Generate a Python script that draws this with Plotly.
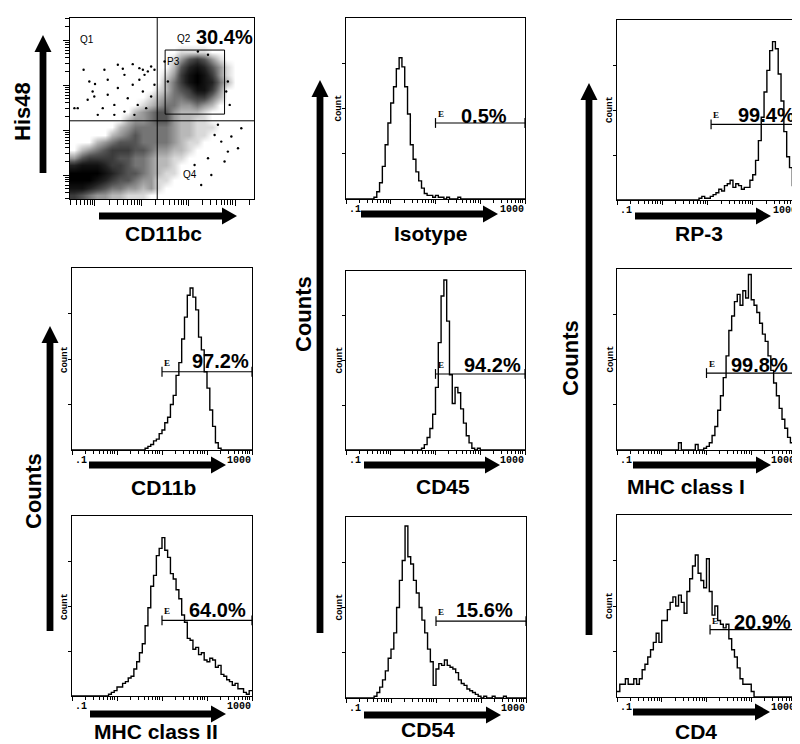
import math
import plotly.graph_objects as go

W, H = 800, 744

# ---------------------------------------------------------------- data
N_BINS = 64                 # log-spaced channels from 0.1 to 1000
LOG_MIN, LOG_MAX = -1, 3

CD11B_COUNTS = [0] * 26 + [1, 2, 3, 5, 6, 9, 11, 15, 18, 25, 30, 41, 48, 61, 73, 85, 89, 84,
                           77, 62, 55, 43, 34, 22, 13, 4, 1] + [0] * 11
MHC2_COUNTS = [0] * 13 + [1, 2, 3, 5, 5, 7, 8, 10, 11, 15, 19, 24, 29, 39, 49, 61, 67, 78, 82, 88,
                          81, 77, 68, 65, 59, 54, 45, 41, 32, 31, 26, 27, 23, 24, 20, 19, 21, 20,
                          16, 17, 12, 11, 9, 8, 6, 7, 4, 4, 2, 1, 3]
ISOTYPE_COUNTS = [0] * 10 + [1, 4, 9, 18, 30, 42, 53, 62, 72, 78, 73, 62, 47, 30, 22, 15, 10, 6,
                             3, 2, 2, 1, 2, 1, 1, 0, 1, 0, 0, 0, 1] + [0] * 23
CD45_COUNTS = [0] * 27 + [1, 3, 7, 12, 20, 35, 60, 86, 95, 72, 42, 26, 35, 32, 23, 15, 8, 4, 1,
                          0, 1] + [0] * 16
CD54_COUNTS = [0] * 10 + [1, 3, 6, 10, 15, 22, 27, 36, 50, 65, 76, 95, 78, 74, 65, 58, 50, 43, 36,
                          27, 20, 7, 16, 19, 18, 21, 18, 17, 16, 14, 10, 8, 7, 5, 4, 3, 2, 1, 0,
                          1, 0, 0, 1, 0, 0, 0, 1] + [0] * 7
RP3_COUNTS = [0] * 29 + [1, 2, 1, 1, 2, 3, 4, 6, 5, 8, 9, 11, 7, 9, 8, 6, 7, 7, 11, 14, 22, 33,
                         46, 60, 72, 83, 88, 84, 70, 55, 38, 24, 18, 8, 28]
MHC1_COUNTS = [0] * 22 + [4, 0, 0, 0, 0, 0, 3, 0, 0, 1, 2, 4, 8, 13, 22, 30, 40, 52, 66, 74, 82,
                          86, 80, 88, 84, 97, 83, 80, 76, 70, 64, 60, 52, 44, 37, 30, 23, 17, 12,
                          7, 4, 2]
CD4_COUNTS = [3, 7, 7, 10, 7, 7, 10, 7, 10, 15, 18, 22, 26, 30, 35, 30, 42, 42, 48, 52, 55, 50,
              56, 52, 46, 58, 65, 72, 78, 68, 64, 60, 76, 58, 45, 50, 42, 40, 38, 40, 32, 26,
              22, 16, 10, 7, 7, 7, 3] + [0] * 14 + [5]

HIST_MARKERS = ["CD11b", "MHC class II", "Isotype", "CD45", "CD54", "RP-3", "MHC class I", "CD4"]
HIST_COUNTS = [CD11B_COUNTS, MHC2_COUNTS, ISOTYPE_COUNTS, CD45_COUNTS, CD54_COUNTS,
               RP3_COUNTS, MHC1_COUNTS, CD4_COUNTS]
GATE_PERCENT = ["97.2%", "64.0%", "0.5%", "94.2%", "15.6%", "99.4%", "99.8%", "20.9%"]
GATE_START = [10, 10, 10, 10, 10, 12, 10, 12]
GATE_LEVEL = [43, 42, 42, 42.5, 42.5, 42, 42.5, 37]

# dot plot His48 vs CD11bc : density of events on a 24 x 24 grid (top row first)
SCATTER_DENSITY = [
    [0, 0, 0, 0, 0, 0, 0, 0, 0, 0, 0, 0, 0, 0, 0, 0, 0, 0, 0, 0, 0, 0, 0, 0],
    [0, 0, 0, 0, 0, 0, 0, 0, 0, 0, 0, 0, 0, 0, 0, 0, 0, 0, 0, 0, 0, 0, 0, 0],
    [0, 0, 0, 0, 0, 0, 0, 0, 0, 0, 0, 0, 0, 0, 0, 0, 0, 0, 0, 0, 0, 0, 0, 0],
    [0, 0, 0, 0, 0, 0, 0, 0, 0, 0, 0, 0, 0, 0, 0, 0, 0, 0, 0, 0, 0, 0, 0, 0],
    [0, 0, 0, 0, 0, 0, 0, 0, 0, 0, 0, 0, 0, 0, 1, 1, 1, 1, 0, 0, 0, 0, 0, 0],
    [0, 0, 0, 0, 0, 0, 0, 0, 0, 0, 0, 0, 0, 1, 3, 5, 6, 5, 3, 1, 0, 0, 0, 0],
    [0, 0, 0, 0, 0, 0, 0, 0, 0, 0, 0, 0, 0, 2, 5, 7, 8, 7, 5, 3, 1, 0, 0, 0],
    [0, 0, 0, 0, 0, 0, 0, 0, 0, 0, 0, 0, 1, 3, 6, 8, 9, 8, 6, 3, 1, 0, 0, 0],
    [0, 0, 0, 0, 0, 0, 0, 0, 0, 0, 0, 0, 2, 4, 6, 8, 9, 8, 7, 4, 2, 0, 0, 0],
    [0, 0, 0, 0, 0, 0, 0, 0, 0, 0, 0, 1, 2, 4, 5, 6, 8, 8, 6, 3, 0, 0, 0, 0],
    [0, 0, 0, 0, 0, 0, 0, 0, 0, 0, 1, 2, 3, 4, 4, 5, 6, 6, 4, 2, 0, 0, 0, 0],
    [0, 0, 0, 0, 0, 0, 0, 0, 0, 1, 2, 3, 4, 4, 3, 3, 4, 3, 2, 0, 0, 0, 0, 0],
    [0, 0, 0, 0, 0, 0, 0, 0, 2, 3, 4, 5, 5, 3, 2, 2, 2, 1, 0, 0, 0, 0, 0, 0],
    [0, 0, 0, 0, 0, 0, 0, 2, 3, 3, 4, 5, 5, 3, 2, 2, 1, 1, 0, 0, 0, 0, 0, 0],
    [0, 0, 0, 0, 0, 0, 2, 3, 4, 4, 4, 4, 4, 3, 2, 2, 1, 1, 1, 0, 0, 0, 0, 0],
    [0, 0, 0, 0, 0, 2, 3, 4, 5, 4, 4, 4, 4, 3, 2, 2, 1, 1, 0, 0, 0, 0, 0, 0],
    [0, 0, 0, 2, 3, 4, 5, 5, 5, 4, 4, 4, 4, 3, 2, 1, 1, 0, 0, 0, 0, 0, 0, 0],
    [0, 2, 3, 4, 5, 6, 6, 6, 5, 5, 4, 3, 3, 2, 2, 1, 0, 0, 0, 0, 0, 0, 0, 0],
    [3, 5, 6, 6, 6, 6, 5, 5, 4, 4, 3, 2, 2, 1, 1, 0, 0, 0, 0, 0, 0, 0, 0, 0],
    [7, 8, 8, 8, 7, 6, 6, 5, 4, 4, 3, 2, 2, 1, 0, 0, 0, 0, 0, 0, 0, 0, 0, 0],
    [9, 9, 9, 9, 8, 7, 6, 5, 5, 4, 3, 2, 1, 1, 0, 0, 0, 0, 0, 0, 0, 0, 0, 0],
    [9, 9, 9, 8, 7, 6, 5, 5, 4, 3, 3, 1, 1, 0, 0, 0, 0, 0, 0, 0, 0, 0, 0, 0],
    [8, 8, 7, 6, 5, 4, 4, 3, 3, 2, 3, 1, 0, 0, 0, 0, 0, 0, 0, 0, 0, 0, 0, 0],
    [6, 5, 4, 3, 3, 2, 2, 1, 1, 1, 0, 0, 0, 0, 0, 0, 0, 0, 0, 0, 0, 0, 0, 0],
]
# isolated events (percent of scale)
SPARSE_X = [7.4, 13.6, 18.7, 26.0, 28.7, 34.1, 37.7, 39.6, 42.3, 44.1, 45.9, 2.4, 4.2, 10.5,
            12.3, 17.8, 20.5, 24.1, 26.0, 29.6, 31.4, 34.1, 36.8, 39.6, 41.4, 44.1, 20.5, 9.6,
            15.1, 35.0, 40.5, 29.6, 13.2, 24.1, 37.7, 45.9,
            78.6, 82.2, 85.8, 75.0, 84.0, 91.3, 76.8, 71.3, 67.7, 93.1, 87.7, 80.4,
            69.5, 75.0, 85.8, 84.9, 86.8, 51.4, 53.2]
SPARSE_Y = [71.4, 63.5, 71.4, 74.2, 72.0, 74.5, 72.3, 71.4, 70.5, 73.2, 71.4, 50.2, 50.2, 64.9,
            59.4, 50.2, 57.6, 52.0, 61.3, 48.3, 55.7, 63.1, 52.0, 59.4, 50.2, 56.6, 65.9, 54.8,
            46.5, 46.5, 68.6, 68.6, 56.6, 46.5, 65.9, 63.1,
            35.4, 31.7, 26.2, 22.5, 20.7, 28.0, 13.3, 7.7, 18.8, 39.1, 34.5, 41.0,
            81.5, 79.7, 64.9, 59.4, 52.0, 76.0, 64.9]
Q2_PERCENT = "30.4%"
QUAD_X, QUAD_Y = 47.4, 43.2
P3_GATE_X = [51.7, 84.0]
P3_GATE_Y = [46.9, 82.3]

# ---------------------------------------------------------------- layout geometry (px)
BOX = {  # left, right, top, bottom
    1: (62, 246, 10, 191),
    2: (64, 244, 260, 442), 3: (64, 244, 508, 688),
    4: (338, 517, 10, 191), 5: (338, 517, 263, 442), 6: (338, 518, 509, 690),
    7: (609, 790, 12, 192), 8: (609, 788, 261, 442), 9: (609, 788, 507, 689),
}
PCT_POS = {2: (212, 353), 3: (209, 602), 4: (476, 108), 5: (484, 357), 6: (476, 602),
           7: (758, 107), 8: (751, 357), 9: (754, 614)}
XLABEL_POS = {1: ("CD11bc", 155, 226), 2: ("CD11b", 155, 479), 3: ("MHC class II", 148, 723),
              4: ("Isotype", 423, 225), 5: ("CD45", 435, 478), 6: ("CD54", 420, 721),
              7: ("RP-3", 691, 225), 8: ("MHC class I", 678, 478), 9: ("CD4", 688, 723)}
H_ARROWS = {1: (91, 229, 208), 2: (81, 218, 457), 3: (82, 218, 706), 4: (353, 490, 206),
            5: (356, 492, 457), 6: (356, 493, 707), 7: (627, 763, 208), 8: (625, 763, 457),
            9: (625, 762, 704)}
V_ARROWS = [(35, 27, 165), (42, 318, 623), (312, 72, 625), (581, 75, 627)]
V_LABELS = [("His48", 15, 104), ("Counts", 25, 483), ("Counts", 295, 306), ("Counts", 562, 350)]

SANS = "Liberation Sans, Arial, sans-serif"
MONO = "Liberation Mono, DejaVu Sans Mono, monospace"
SERIF = "Liberation Serif, DejaVu Serif, serif"


def px_x(px):
    return px / W


def px_y(py):
    return 1 - py / H


fig = go.Figure()
annotations = []
shapes = []
layout_axes = {}


def text(s, cx, cy, size, family=SANS, bold=True, angle=0, xanchor="center"):
    annotations.append(dict(
        text=f"<b>{s}</b>" if bold else s, x=px_x(cx), y=px_y(cy), xref="paper", yref="paper",
        xanchor=xanchor, yanchor="middle", showarrow=False, textangle=angle,
        font=dict(family=family, size=size, color="black")))


def harrow(x0, x1, y, sw=3.4, hw=8.5, hl=15):
    pts = [(x0, y - sw), (x1 - hl, y - sw), (x1 - hl, y - hw), (x1, y), (x1 - hl, y + hw),
           (x1 - hl, y + sw), (x0, y + sw)]
    return "M " + " L ".join(f"{px_x(a):.5f},{px_y(b):.5f}" for a, b in pts) + " Z"


def varrow(x, ytip, ybot, sw=3.4, hw=8.5, hl=17):
    pts = [(x - sw, ybot), (x - sw, ytip + hl), (x - hw, ytip + hl), (x, ytip),
           (x + hw, ytip + hl), (x + sw, ytip + hl), (x + sw, ybot)]
    return "M " + " L ".join(f"{px_x(a):.5f},{px_y(b):.5f}" for a, b in pts) + " Z"


def base_axis(i, kind):
    L, R, T, B = BOX[i]
    dom = [px_x(L), px_x(R)] if kind == "x" else [px_y(B), px_y(T)]
    other = "y" if kind == "x" else "x"
    return dict(domain=dom, anchor=other if i == 1 else f"{other}{i}", showline=True,
                linecolor="black", linewidth=1, mirror=True, showgrid=False, zeroline=False,
                ticks="outside", tickcolor="black", tickwidth=1, showticklabels=False,
                fixedrange=True)


def aname(i, kind):
    return f"{kind}axis" if i == 1 else f"{kind}axis{i}"


def aref(i, kind):
    return kind if i == 1 else f"{kind}{i}"


# ---------------------------------------------------------------- dot plot panel
n = len(SCATTER_DENSITY)
centers = [(k + 0.5) * 100 / n for k in range(n)]
fig.add_trace(go.Heatmap(
    z=SCATTER_DENSITY[::-1], x=centers, y=centers, zmin=0, zmax=9, zsmooth="best",
    showscale=False, hoverinfo="skip",
    colorscale=[[0, "#ffffff"], [0.1, "#dcdcdc"], [0.33, "#989898"], [0.55, "#555555"],
                [0.78, "#222222"], [1, "#000000"]], xaxis="x", yaxis="y"))
fig.add_trace(go.Scatter(x=SPARSE_X, y=SPARSE_Y, mode="markers", xaxis="x", yaxis="y",
                         marker=dict(size=2.4, color="black"), hoverinfo="skip"))


def log_ticks(lo, hi):
    major, minor = [], []
    for d in range(-1, 6):
        for k in range(1, 10):
            v = d + math.log10(k)
            if lo <= v <= hi:
                (major if k == 1 else minor).append((v - lo) / (hi - lo) * 100)
    return major, minor


mx, mnx = log_ticks(0.465, 4.405)
my, mny = log_ticks(0.467, 4.49)
ax = base_axis(1, "x")
ax.update(range=[0, 100], tickmode="array", tickvals=mx, ticklen=6,
          minor=dict(tickmode="array", tickvals=mnx, ticks="outside", ticklen=5,
                     tickcolor="black"))
ay = base_axis(1, "y")
ay.update(range=[0, 100], tickmode="array", tickvals=my, ticklen=6,
          minor=dict(tickmode="array", tickvals=mny, ticks="outside", ticklen=4,
                     tickcolor="black"))
layout_axes["xaxis"] = ax
layout_axes["yaxis"] = ay

shapes.append(dict(type="line", xref="x", yref="y", x0=QUAD_X, x1=QUAD_X, y0=0, y1=100,
                   line=dict(color="black", width=1)))
shapes.append(dict(type="line", xref="x", yref="y", x0=0, x1=100, y0=QUAD_Y, y1=QUAD_Y,
                   line=dict(color="black", width=1)))
shapes.append(dict(type="rect", xref="x", yref="y", x0=P3_GATE_X[0], x1=P3_GATE_X[1],
                   y0=P3_GATE_Y[0], y1=P3_GATE_Y[1], line=dict(color="black", width=1)))
text("Q1", 79, 32, 10, bold=False)
text("Q2", 176, 31, 10, bold=False)
text("Q4", 182, 166, 10, bold=False)
text("P3", 165, 53, 10, bold=False)
text(Q2_PERCENT, 216, 29, 20)

# ---------------------------------------------------------------- histogram panels
edges = [10 ** (LOG_MIN + (LOG_MAX - LOG_MIN) * k / N_BINS) for k in range(N_BINS + 1)]
decades = [10 ** d for d in range(LOG_MIN, LOG_MAX + 1)]
minor_vals = [k * 10 ** d for d in range(LOG_MIN, LOG_MAX) for k in range(2, 10)]

for j, counts in enumerate(HIST_COUNTS):
    i = j + 2
    L, R, T, B = BOX[i]
    xr, yr = aref(i, "x"), aref(i, "y")
    fig.add_trace(go.Scatter(x=edges, y=counts + [counts[-1]], mode="lines",
                             line=dict(color="black", width=1.4, shape="hv"),
                             xaxis=xr, yaxis=yr, hoverinfo="skip", cliponaxis=True))
    fig.add_trace(go.Scatter(x=[GATE_START[j], 10 ** LOG_MAX], y=[GATE_LEVEL[j]] * 2,
                             mode="lines+markers", xaxis=xr, yaxis=yr, hoverinfo="skip",
                             line=dict(color="black", width=1.1), cliponaxis=False,
                             marker=dict(symbol="line-ns", size=7, color="black",
                                         line=dict(color="black", width=1.2))))
    ax = base_axis(i, "x")
    ax.update(type="log", range=[LOG_MIN, LOG_MAX], tickmode="array", tickvals=decades,
              ticklen=4, minor=dict(tickmode="array", tickvals=minor_vals, ticks="outside",
                                    ticklen=3, tickcolor="black"))
    ay = base_axis(i, "y")
    ay.update(range=[0, 100], tickmode="array", tickvals=[25, 50, 75], ticklen=3)
    layout_axes[aname(i, "x")] = ax
    layout_axes[aname(i, "y")] = ay

    annotations.append(dict(text="<b>E</b>", x=math.log10(GATE_START[j]), y=GATE_LEVEL[j],
                            xref=xr, yref=yr, xshift=5, yshift=9, showarrow=False,
                            xanchor="center", yanchor="middle",
                            font=dict(family=SERIF, size=9, color="black")))
    text(GATE_PERCENT[j], *PCT_POS[i], 20)
    text("Count", L - 7, (T + B) / 2, 9, family=MONO, angle=-90)
    text(".1", L + 1, B + 10, 10, family=MONO, xanchor="left")
    text("1000", R - 1 - 26, B + 10, 10, family=MONO, xanchor="left")

# ---------------------------------------------------------------- arrows & big labels
for i, (x0, x1, y) in H_ARROWS.items():
    shapes.append(dict(type="path", xref="paper", yref="paper", path=harrow(x0, x1, y),
                       fillcolor="black", line=dict(width=0)))
for (x, yt, yb) in V_ARROWS:
    shapes.append(dict(type="path", xref="paper", yref="paper", path=varrow(x, yt, yb),
                       fillcolor="black", line=dict(width=0)))
for i, (s, cx, cy) in XLABEL_POS.items():
    text(s, cx, cy, 21)
for (s, cx, cy) in V_LABELS:
    text(s, cx, cy, 22, angle=-90)

fig.update_layout(width=W, height=H, margin=dict(l=0, r=0, t=0, b=0),
                  paper_bgcolor="white", plot_bgcolor="white", showlegend=False,
                  annotations=annotations, shapes=shapes, **layout_axes)
fig.write_html("out.html")
